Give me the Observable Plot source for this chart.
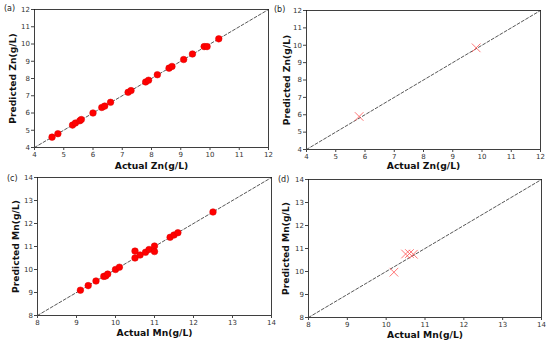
<!DOCTYPE html>
<html>
<head>
<meta charset="utf-8">
<script src="https://cdn.jsdelivr.net/npm/d3@7"></script>
<script src="https://cdn.jsdelivr.net/npm/@observablehq/plot@0.6"></script>
<style>
  html, body { margin: 0; padding: 0; background: #fff; }
  #root { position: relative; width: 550px; height: 341px; overflow: hidden; font-family: "DejaVu Sans", sans-serif; }
  .panel { position: absolute; }
  .tag { position: absolute; font-size: 8px; color: #222; font-family: "DejaVu Sans", sans-serif; line-height: 1; }
  .panel svg { overflow: visible; }
  .panel [aria-label$="axis label"] text { font-weight: bold; font-size: 9.2px; fill: #111; }
  .panel [aria-label$="tick label"] text { fill: #333; }
</style>
</head>
<body>
<div id="root"></div>
<script>
// Panel (a): training, Zn
const znTrainActual = [4.6, 4.8, 5.3, 5.4, 5.55, 5.6, 6.0, 6.3, 6.4, 6.6, 7.2, 7.3, 7.8, 7.9, 8.2, 8.6, 8.7, 9.1, 9.4, 9.8, 9.9, 10.3];
const znTrainPred   = [4.6, 4.8, 5.3, 5.42, 5.55, 5.62, 6.0, 6.32, 6.4, 6.62, 7.2, 7.3, 7.8, 7.9, 8.22, 8.6, 8.7, 9.1, 9.42, 9.85, 9.85, 10.3];
// Panel (b): test, Zn
const znTestActual = [5.8, 9.8];
const znTestPred   = [5.9, 9.85];
// Panel (c): training, Mn
const mnTrainActual = [9.1, 9.3, 9.5, 9.7, 9.75, 9.8, 10.0, 10.1, 10.5, 10.5, 10.63, 10.77, 10.86, 11.0, 11.0, 11.4, 11.5, 11.6, 12.5];
const mnTrainPred   = [9.1, 9.3, 9.5, 9.7, 9.72, 9.8, 10.0, 10.1, 10.8, 10.5, 10.63, 10.75, 10.87, 11.02, 10.78, 11.4, 11.5, 11.6, 12.5];
// Panel (d): test, Mn
const mnTestActual = [10.2, 10.5, 10.6, 10.7];
const mnTestPred   = [9.97, 10.76, 10.78, 10.75];

const znDomain = [4, 12];
const mnDomain = [8, 14];
const znTicks = [4, 5, 6, 7, 8, 9, 10, 11, 12];
const mnTicks = [8, 9, 10, 11, 12, 13, 14];

const root = document.getElementById("root");

function panel(opts) {
  const {left, top, width, height, margins, domain, ticks, actual, pred, kind, xLabel, yLabel, xOff, yOff, tag, tagX, tagY} = opts;
  const data = actual.map((a, i) => ({a, p: pred[i]}));
  const pointMark = kind === "dot"
    ? Plot.dot(data, {x: "a", y: "p", r: 3.3, fill: "#f00", stroke: "#d00", strokeWidth: 0.5})
    : Plot.dot(data, {x: "a", y: "p", symbol: "times", r: 4, stroke: "#ff5555", strokeWidth: 0.8});
  const svg = Plot.plot({
    width, height,
    marginLeft: margins[0], marginRight: margins[1], marginTop: margins[2], marginBottom: margins[3],
    style: {fontFamily: "DejaVu Sans, sans-serif", fontSize: "7px", background: "transparent", overflow: "visible"},
    x: {domain},
    y: {domain},
    marks: [
      Plot.line(domain, {x: d => d, y: d => d, stroke: "#444", strokeWidth: 0.9, strokeDasharray: "3,2"}),
      pointMark,
      Plot.frame({stroke: "#111", strokeWidth: 0.8}),
      Plot.axisX({ticks, tickFormat: "d", tickSize: 3, tickPadding: 1.5, stroke: "#444", label: xLabel, labelAnchor: "center", labelArrow: "none", labelOffset: xOff}),
      Plot.axisY({ticks, tickFormat: "d", tickSize: 3, tickPadding: 1.5, stroke: "#444", label: yLabel, labelAnchor: "center", labelArrow: "none", labelOffset: yOff})
    ]
  });
  const div = document.createElement("div");
  div.className = "panel";
  div.style.left = left + "px";
  div.style.top = top + "px";
  div.appendChild(svg);
  root.appendChild(div);
  const t = document.createElement("div");
  t.className = "tag";
  t.textContent = tag;
  t.style.left = tagX + "px";
  t.style.top = tagY + "px";
  root.appendChild(t);
}

panel({left: 0, top: 0, width: 275, height: 170, margins: [34, 7, 9, 23], domain: znDomain, ticks: znTicks,
  actual: znTrainActual, pred: znTrainPred, kind: "dot", xLabel: "Actual Zn(g/L)", yLabel: "Predicted Zn(g/L)",
  xOff: 21, yOff: 25, tag: "(a)", tagX: 4, tagY: 5});
panel({left: 275, top: 0, width: 275, height: 170, margins: [31, 10, 10, 21], domain: znDomain, ticks: znTicks,
  actual: znTestActual, pred: znTestPred, kind: "x", xLabel: "Actual Zn(g/L)", yLabel: "Predicted Zn(g/L)",
  xOff: 19, yOff: 23, tag: "(b)", tagX: 274, tagY: 6});
panel({left: 0, top: 170, width: 275, height: 171, margins: [37, 4, 7, 26], domain: mnDomain, ticks: mnTicks,
  actual: mnTrainActual, pred: mnTrainPred, kind: "dot", xLabel: "Actual Mn(g/L)", yLabel: "Predicted Mn(g/L)",
  xOff: 20, yOff: 25, tag: "(c)", tagX: 7, tagY: 175});
panel({left: 275, top: 170, width: 275, height: 171, margins: [33, 9, 9, 24], domain: mnDomain, ticks: mnTicks,
  actual: mnTestActual, pred: mnTestPred, kind: "x", xLabel: "Actual Mn(g/L)", yLabel: "Predicted Mn(g/L)",
  xOff: 20, yOff: 26, tag: "(d)", tagX: 278, tagY: 176});
</script>
</body>
</html>
